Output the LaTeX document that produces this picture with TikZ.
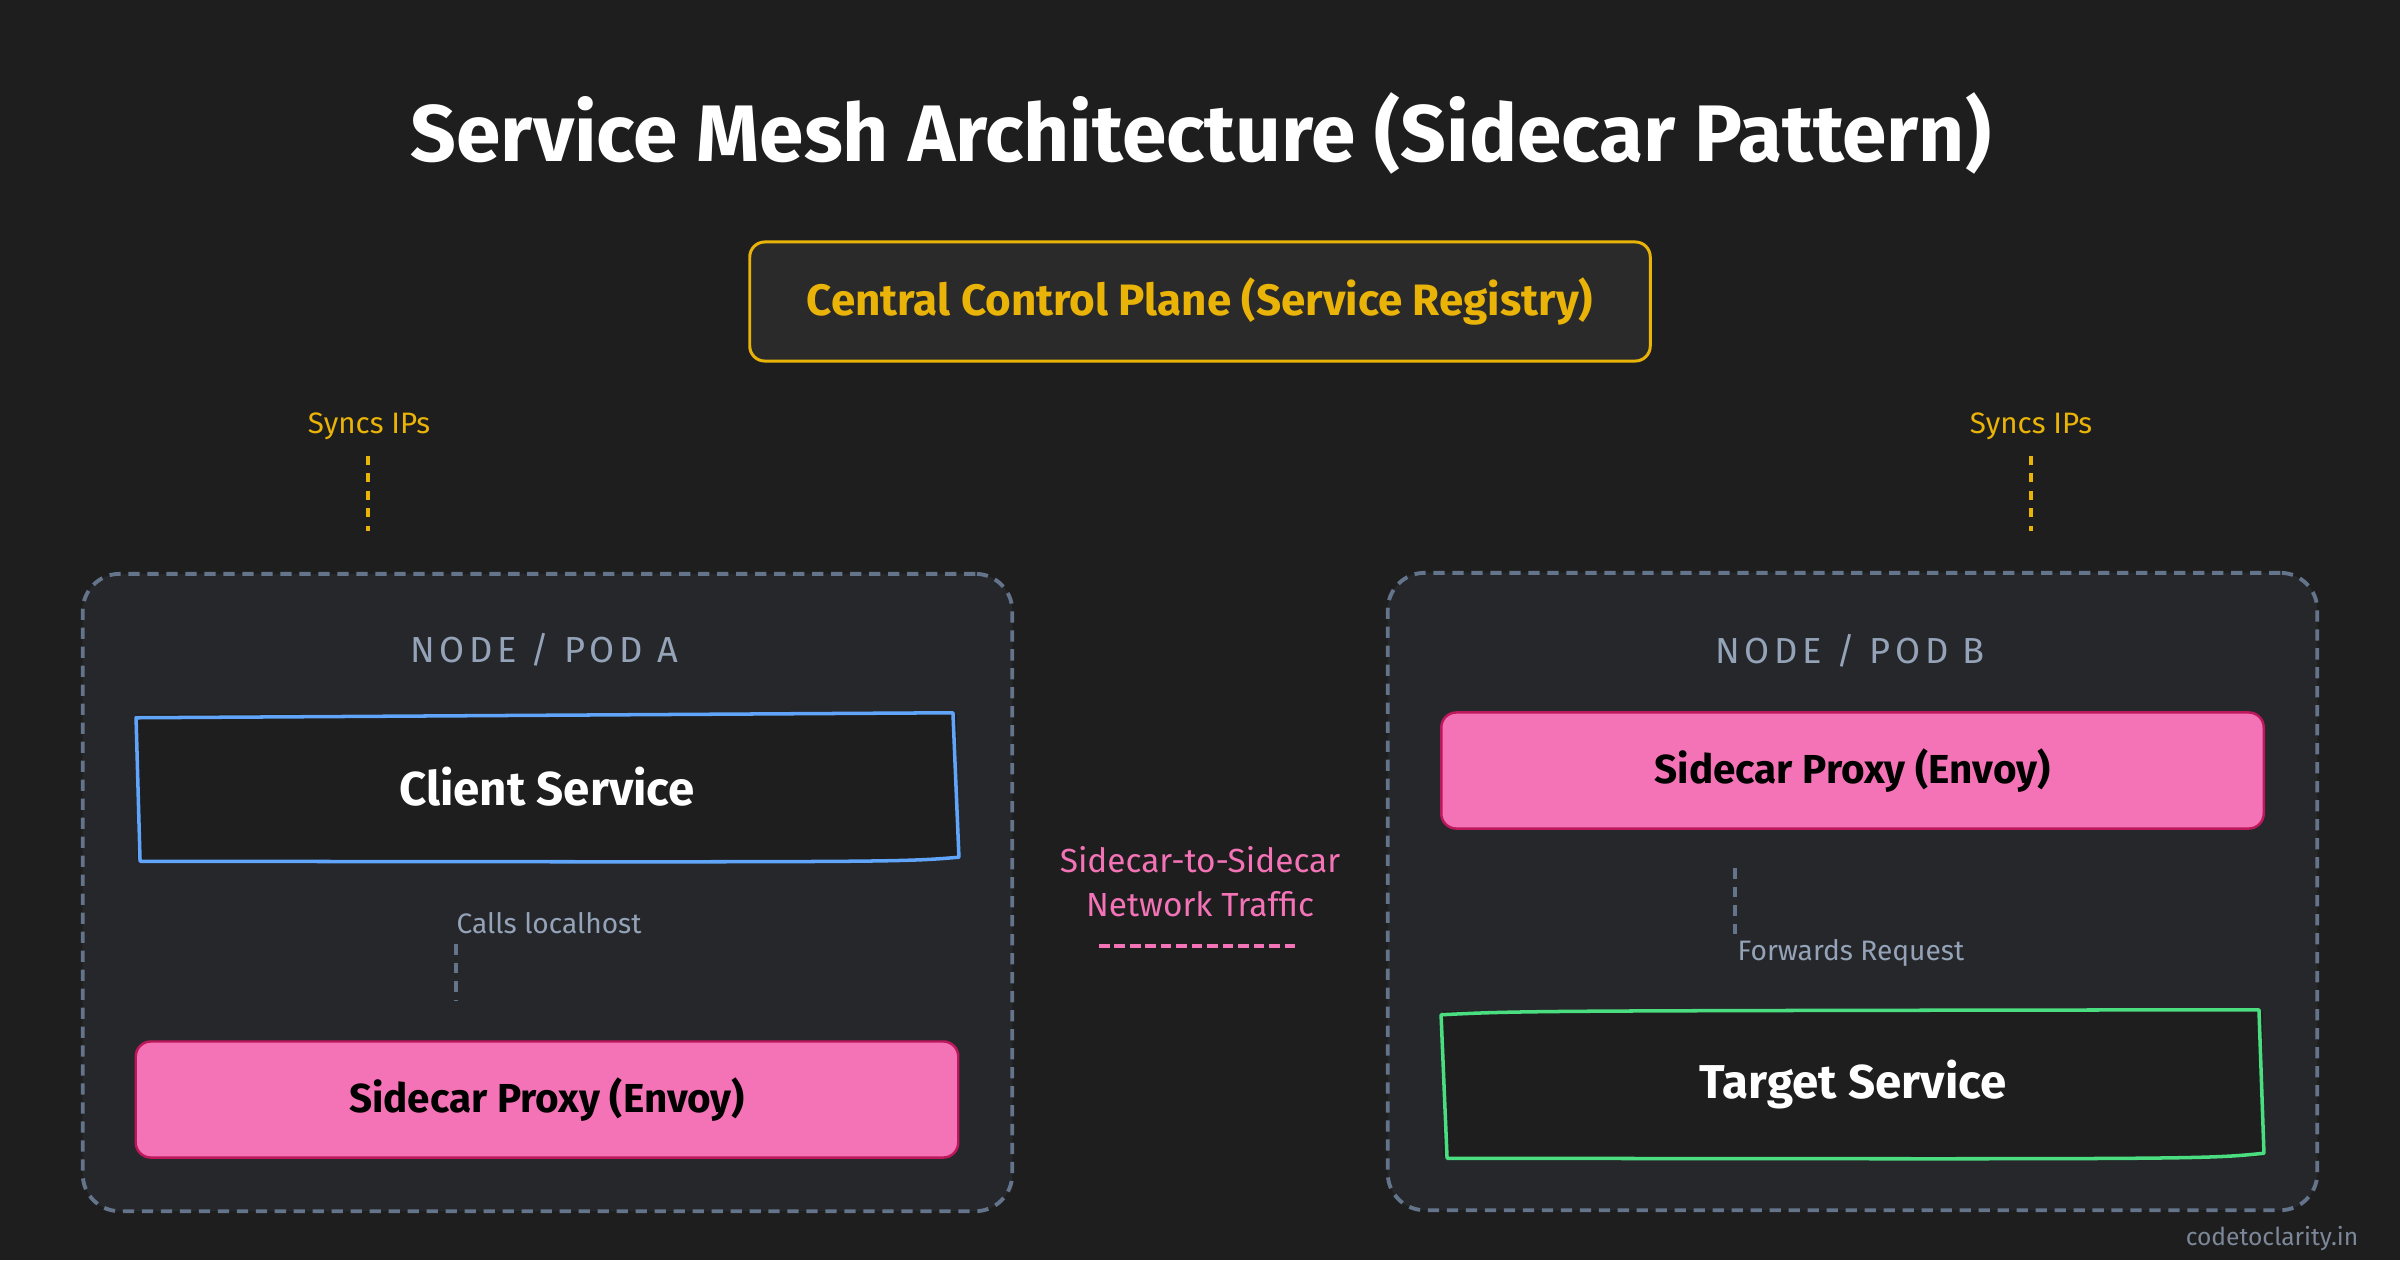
\documentclass[tikz,border=0pt]{standalone}
\usepackage{fontspec}
\setmainfont{Fira Sans}
\newfontfamily\podfont[LetterSpace=13]{Fira Sans}
\usetikzlibrary{positioning}

\definecolor{bgdark}{HTML}{1E1E1E}
\definecolor{podfill}{HTML}{25272B}
\definecolor{podline}{HTML}{64748B}
\definecolor{planefill}{HTML}{2A2A2A}
\definecolor{amber}{HTML}{EAB308}
\definecolor{skyline}{HTML}{60A5FA}
\definecolor{mint}{HTML}{4ADE80}
\definecolor{rose}{HTML}{F472B6}
\definecolor{roseline}{HTML}{BE185D}
\definecolor{slatetext}{HTML}{94A3B8}

\begin{document}
\begin{tikzpicture}[x=0.01cm,y=-0.01cm,
    pod/.style={draw=podline,fill=podfill,line width=1.1pt,dash pattern=on 3.2pt off 2.2pt,
        rounded corners=0.37cm,minimum width=9.29cm,minimum height=6.37cm},
    podtitle/.style={text=slatetext,font=\podfont\fontsize{10.3}{12}\selectfont,anchor=base},
    proxy/.style={draw=roseline,fill=rose,line width=0.7pt,rounded corners=0.15cm,
        minimum width=8.22cm,minimum height=1.16cm,text=black,font=\bfseries\fontsize{11.5}{14}\selectfont},
    service/.style={fill=bgdark,minimum width=8.2cm,minimum height=1.45cm,text=white,
        font=\bfseries\fontsize{13.5}{16}\selectfont},
    sketch/.style={line width=1pt,line join=round},
    hint/.style={text=slatetext,font=\fontsize{8}{10}\selectfont,anchor=base west,inner sep=0pt},
    syncs/.style={text=amber,font=\fontsize{8.4}{10}\selectfont,anchor=base},
    link/.style={line width=0.9pt,dash pattern=on 2.5pt off 2.5pt}]

    \fill[bgdark] (0,0) rectangle (2400,1260);

    \node[text=white,font=\bfseries\fontsize{22.8}{27}\selectfont,anchor=base] (title) at (1201,161)
        {Service Mesh Architecture (Sidecar Pattern)};
    \node[draw=amber,fill=planefill,line width=0.85pt,rounded corners=0.15cm,minimum width=9cm,
        minimum height=1.19cm,text=amber,font=\bfseries\fontsize{12.5}{15}\selectfont] (plane) at (1200,301.5)
        {Central Control Plane (Service Registry)};

    \node[syncs] (syncsA) at (369,433) {Syncs IPs};
    \node[syncs] (syncsB) at (2031,433) {Syncs IPs};
    \coordinate (syncsAend) at (368,531);
    \coordinate (syncsBend) at (2031,531);
    \draw[link,amber] (syncsA.south -| syncsAend) ++(0,4) -- (syncsAend);
    \draw[link,amber] (syncsB.south -| syncsBend) ++(0,4) -- (syncsBend);

    % pod A
    \node[pod] (podA) at (547.5,892.5) {};
    \node[podtitle] (podAtitle) at (544,662) {NODE / POD A};
    \node[service] (client) at (547,787) {Client Service};
    \draw[sketch,skyline] ([shift={(0,4)}]client.north west) -- ([shift={(-5,-1)}]client.north east)
        -- ([shift={(1,-3)}]client.south east) .. controls ([shift={(-60,2)}]client.south east)
        .. ([shift={(4,1)}]client.south west) -- cycle;
    \node[hint] (calls) at (456,933) {Calls localhost};
    \coordinate (callsend) at (456,1000);
    \draw[link,podline,dash pattern=on 3pt off 2.3pt] (calls.south west) ++(0,10) -- (callsend);
    \node[proxy] (proxyA) at (547,1099.5) {Sidecar Proxy (Envoy)};

    % traffic between the pods
    \node[text=rose,font=\fontsize{9.5}{12.5}\selectfont,align=center] (traffic) at (1200,882)
        {Sidecar-to-Sidecar\\Network Traffic};
    \coordinate (trafficL) at (1099,946);
    \coordinate (trafficR) at (1299,946);
    \draw[rose,line width=1.4pt,dash pattern=on 3pt off 1.4pt] (trafficL) -- (trafficR);

    % pod B
    \node[pod] (podB) at (1852.5,891.5) {};
    \node[podtitle] (podBtitle) at (1850,663) {NODE / POD B};
    \node[proxy] (proxyB) at (1852.5,770.5) {Sidecar Proxy (Envoy)};
    \node[hint] (forwards) at (1737,960) {Forwards Request};
    \coordinate (fwdstart) at (1735,868);
    \draw[link,podline,dash pattern=on 3pt off 2.3pt] (fwdstart) -- (fwdstart |- forwards.north) ++(0,-10);
    \node[service] (target) at (1853,1084) {Target Service};
    \draw[sketch,mint] ([shift={(-1,4)}]target.north west) .. controls ([shift={(80,0)}]target.north west)
        .. ([shift={(-5,-1)}]target.north east) -- ([shift={(0,-4)}]target.south east)
        .. controls ([shift={(-60,2)}]target.south east) .. ([shift={(5,1)}]target.south west) -- cycle;

    \node[text=slatetext!80!bgdark,font=\fontsize{7}{9}\selectfont,anchor=base east,inner sep=0pt] (mark)
        at (2359,1245) {codetoclarity.in};
\end{tikzpicture}
\end{document}
